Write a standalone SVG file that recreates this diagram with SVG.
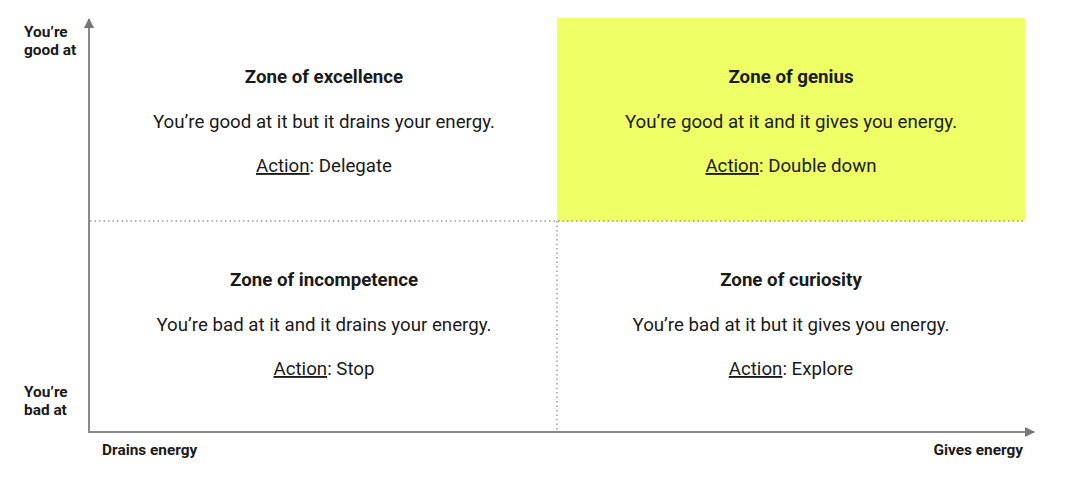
<svg xmlns="http://www.w3.org/2000/svg" width="1080" height="496" viewBox="0 0 1080 496">
<style>
text{font-family:Roboto,"Liberation Sans",sans-serif;fill:#1a1a1a}
.t{font-size:18.7px;font-weight:700;text-anchor:middle}
.b{font-size:18.7px;text-anchor:middle}
.ax{font-size:15.4px;font-weight:700}
.axis{stroke:#8a8a8a;stroke-width:2;fill:none}
.dot{stroke:#9a9a9a;stroke-width:1.5;stroke-dasharray:1.5 3;fill:none}
</style>
<defs>
<marker id="ah" viewBox="0 0 10 10" refX="9" refY="5" markerWidth="5" markerHeight="5" orient="auto" markerUnits="strokeWidth">
<path d="M0,0 L10,5 L0,10 z" fill="#777"/>
</marker>
</defs>
<rect width="1080" height="496" fill="#fff"/>
<rect id="genius-bg" x="557" y="18" width="468" height="203" fill="#EFFF66"/>
<g id="connectors">
<line class="dot" x1="90" y1="221" x2="1025" y2="221"/>
<line class="dot" x1="557" y1="221" x2="557" y2="432"/>
<line class="axis" x1="89" y1="432" x2="89" y2="19" marker-end="url(#ah)"/>
<line class="axis" x1="88" y1="432" x2="1034" y2="432" marker-end="url(#ah)"/>
</g>
<g id="excellence">
<text class="t" x="324" y="83">Zone of excellence</text>
<text class="b" x="324" y="128">You’re good at it but it drains your energy.</text>
<text class="b" x="324" y="172"><tspan text-decoration="underline">Action</tspan>: Delegate</text>
</g>
<g id="genius">
<text class="t" x="791" y="83">Zone of genius</text>
<text class="b" x="791" y="128">You’re good at it and it gives you energy.</text>
<text class="b" x="791" y="172"><tspan text-decoration="underline">Action</tspan>: Double down</text>
</g>
<g id="incompetence">
<text class="t" x="324" y="286">Zone of incompetence</text>
<text class="b" x="324" y="331">You’re bad at it and it drains your energy.</text>
<text class="b" x="324" y="375"><tspan text-decoration="underline">Action</tspan>: Stop</text>
</g>
<g id="curiosity">
<text class="t" x="791" y="286">Zone of curiosity</text>
<text class="b" x="791" y="331">You’re bad at it but it gives you energy.</text>
<text class="b" x="791" y="375"><tspan text-decoration="underline">Action</tspan>: Explore</text>
</g>
<g id="axis-labels">
<text class="ax" x="24" y="37">You’re</text>
<text class="ax" x="24" y="55">good at</text>
<text class="ax" x="24" y="397">You’re</text>
<text class="ax" x="24" y="415">bad at</text>
<text class="ax" x="102" y="455">Drains energy</text>
<text class="ax" x="1023" y="455" text-anchor="end">Gives energy</text>
</g>
</svg>
